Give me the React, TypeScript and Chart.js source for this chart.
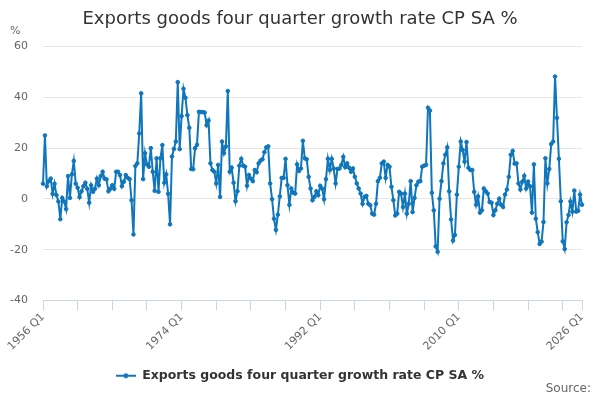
import { useEffect, useRef } from 'react';
import { Chart, registerables } from 'chart.js';

Chart.register(...registerables);

const TITLE = 'Exports goods four quarter growth rate CP SA %';
const SERIES_NAME = 'Exports goods four quarter growth rate CP SA %';
const Y_UNIT = '%';
const SOURCE_TEXT = 'Source:';
const FIRST_YEAR = 1956;
const Y_MIN = -40;
const Y_MAX = 60;
const Y_STEP = 20;

// Quarterly values, in order from 1956 Q1.
const growth1956Q1to1967Q4 = [
  6, 25, 5, 7, 8, 2, 6, 1.5, -1, -8, 0.4, -1, -4, 9, 0.4, 9.7, 15, 6, 4.4, 0.7, 3, 5, 6.4, 4,
  -1.5, 5.4, 2.8, 4, 8, 5.4, 9, 10.7, 8, 7.7, 3, 4, 5.4, 4, 10.7, 10.7, 9.4, 5, 6.8, 9.4, 8.3, 7.8, -0.5, -14,
];
const growth1968Q1to1979Q2 = [
  13, 14, 25.8, 41.6, 7.8, 18, 13.6, 12.7, 20, 10.7, 3.2, 16, 2.8, 16, 21.2, 6.4, 9.7, 2, -10, 16.7,
  19.7, 22.6, 46, 19.6, 32.6, 43.4, 39.9, 33, 28, 11.8, 11.7, 20, 21.3, 34.3, 34.2, 34.2, 34, 29, 30.9, 14,
  11.4, 10.7, 6.1, 13.4, 0.8, 22.6,
];
const growth1979Q3to1991Q1 = [
  18, 20.7, 42.5, 10.7, 12.3, 6.4, -0.9, 3, 13.1, 15.8, 13.1, 12.7, 5.2, 9.4, 8, 7, 11.4, 10.5, 14, 15.1,
  15.6, 18.4, 20.3, 20.7, 6.1, -0.1, -7.8, -12.2, -6.2, 1, 8.3, 8.3, 15.8, 5.4, -2.3, 4.1, 2.5, 2.1, 13.6, 11,
  12, 22.9, 16, 15.6, 8.7, 4.1, -0.5,
];
const growth1991Q2to2002Q4 = [
  0.8, 3, 1.5, 5.2, 4.1, -0.1, 7.8, 15.8, 11.4, 15.8, 12, 6.1, 11.8, 12, 13.4, 16.6, 12.5, 14, 12.3, 10.7,
  12, 8.7, 6.1, 4.1, 2.1, -1.9, 0.8, 1.2, -1.9, -2.5, -5.8, -6.2, -1.9, 7, 8.3, 14, 14.7, 8.3, 13.4, 12.7,
  4.8, -0.5, -6.5, -5.8, 2.8, 2.1, -3.2,
];
const growth2003Q1to2014Q3 = [
  2.1, -5.8, -1.9, 7, -5.2, 0.4, 5.4, 6.8, 7, 12.7, 13.1, 13.4, 35.9, 34.8, 2.4, -4.5, -18.7, -20.8, 0.1, 7,
  14, 17.4, 20.3, 3, -8.1, -16.4, -14.2, 1.7, 12.7, 22.6, 19.3, 14.7, 22.4, 12.3, 11.4, 11.4, 2.8, -2.3, 1, -5.4,
  -4.5, 4.1, 3, 2.1, -1.2, -1.5, -6.3,
];
const growth2014Q4to2026Q1 = [
  -4.5, -1.9, 0.1, -2.3, -3.2, 1.7, 3.7, 8.7, 17.4, 18.9, 13.9, 14, 6.1, 3.7, 6.8, 9.1, 4.1, 6.8, 5, -5.4,
  13.6, -7.8, -13.1, -17.7, -16.8, -9.1, 16, 6.1, 11.8, 21.6, 22.6, 48.2, 31.9, 15.8, -0.9, -16.7, -19.7, -9.2, -6.3, -1,
  -5, 3.3, -5, -4.7, 1.7, -2.3,
];

const VALUES: number[] = [
  ...growth1956Q1to1967Q4,
  ...growth1968Q1to1979Q2,
  ...growth1979Q3to1991Q1,
  ...growth1991Q2to2002Q4,
  ...growth2003Q1to2014Q3,
  ...growth2014Q4to2026Q1,
];

const CATEGORIES: string[] = VALUES.map(
  (_, i) => `${FIRST_YEAR + Math.floor(i / 4)} Q${(i % 4) + 1}`
);

const LINE_COLOR = '#0f76bb';
const FONT = '"DejaVu Sans", Verdana, sans-serif';

function makeLegendSymbol(color: string): HTMLCanvasElement {
  const c = document.createElement('canvas');
  c.width = 20;
  c.height = 8;
  const ctx = c.getContext('2d')!;
  ctx.strokeStyle = color;
  ctx.lineWidth = 2;
  ctx.beginPath();
  ctx.moveTo(0, 4);
  ctx.lineTo(20, 4);
  ctx.stroke();
  ctx.fillStyle = color;
  ctx.beginPath();
  ctx.arc(10, 4, 2.5, 0, Math.PI * 2);
  ctx.fill();
  return c;
}

const extraText = {
  id: 'extraText',
  afterDraw(chart: any) {
    const { ctx } = chart;
    ctx.save();
    ctx.fillStyle = '#666666';
    ctx.textBaseline = 'middle';
    ctx.font = `11px ${FONT}`;
    ctx.textAlign = 'left';
    ctx.fillText(Y_UNIT, 10, 31);
    ctx.font = `12px ${FONT}`;
    ctx.textAlign = 'right';
    ctx.fillText(SOURCE_TEXT, 591, 389);
    ctx.restore();
  },
};

export default function App() {
  const canvasRef = useRef<HTMLCanvasElement | null>(null);

  useEffect(() => {
    if (!canvasRef.current) return;
    const last = CATEGORIES.length - 1;
    const chart = new Chart(canvasRef.current, {
      type: 'line',
      data: {
        labels: CATEGORIES,
        datasets: [
          {
            label: SERIES_NAME,
            data: VALUES,
            borderColor: LINE_COLOR,
            backgroundColor: LINE_COLOR,
            borderWidth: 2,
            pointRadius: 1.8,
            pointBorderWidth: 1,
            pointBackgroundColor: LINE_COLOR,
            pointBorderColor: LINE_COLOR,
            tension: 0,
            yAxisID: 'y',
          },
        ],
      },
      options: {
        responsive: false,
        animation: false,
        layout: { padding: { left: 0, right: 0, top: 0, bottom: 8 } },
        plugins: {
          title: {
            display: true,
            text: TITLE,
            color: '#333333',
            font: { family: FONT, size: 18, weight: 'normal' },
            padding: { top: 9, bottom: 16 },
          },
          legend: {
            display: true,
            position: 'bottom',
            labels: {
              usePointStyle: true,
              pointStyle: makeLegendSymbol(LINE_COLOR) as any,
              pointStyleWidth: 20,
              color: '#333333',
              font: { family: FONT, size: 12.5, weight: 'bold' },
              padding: 10,
            },
          },
          tooltip: { enabled: false },
        },
        scales: {
          x: {
            type: 'category',
            offset: false,
            afterBuildTicks: (axis: any) => {
              axis.ticks = axis.ticks.filter(
                (t: any) => t.value % 18 === 0 || t.value === last
              );
            },
            afterFit: (scale: any) => {
              scale.height = 59;
            },
            grid: {
              drawOnChartArea: false,
              drawTicks: true,
              tickLength: 10,
              color: '#ccd6eb',
              offset: false,
            },
            border: { display: true, color: '#ccd6eb', width: 1 },
            ticks: {
              autoSkip: false,
              minRotation: 45,
              maxRotation: 45,
              padding: 0,
              color: '#666666',
              font: { family: FONT, size: 11 },
              callback: (value: any) => {
                const i = Number(value);
                return i % 72 === 0 || i === last ? CATEGORIES[i] : '';
              },
            },
          },
          y: {
            min: Y_MIN,
            max: Y_MAX,
            position: 'left',
            afterFit: (scale: any) => {
              scale.width = 43;
            },
            grid: { color: '#e6e6e6', drawTicks: false },
            border: { display: false },
            ticks: {
              stepSize: Y_STEP,
              padding: 15,
              color: '#666666',
              font: { family: FONT, size: 11 },
            },
          },
          yRightSpacer: {
            type: 'linear',
            position: 'right',
            display: true,
            min: Y_MIN,
            max: Y_MAX,
            afterFit: (scale: any) => {
              scale.width = 18;
            },
            grid: { display: false, drawOnChartArea: false, drawTicks: false },
            border: { display: false },
            ticks: { display: false },
          },
        },
      },
      plugins: [extraText],
    });
    return () => chart.destroy();
  }, []);

  return (
    <div style={{ position: 'fixed', left: 0, top: 0, width: 600, height: 400, background: '#fff' }}>
      <canvas ref={canvasRef} width={600} height={400} style={{ display: 'block' }} />
    </div>
  );
}
